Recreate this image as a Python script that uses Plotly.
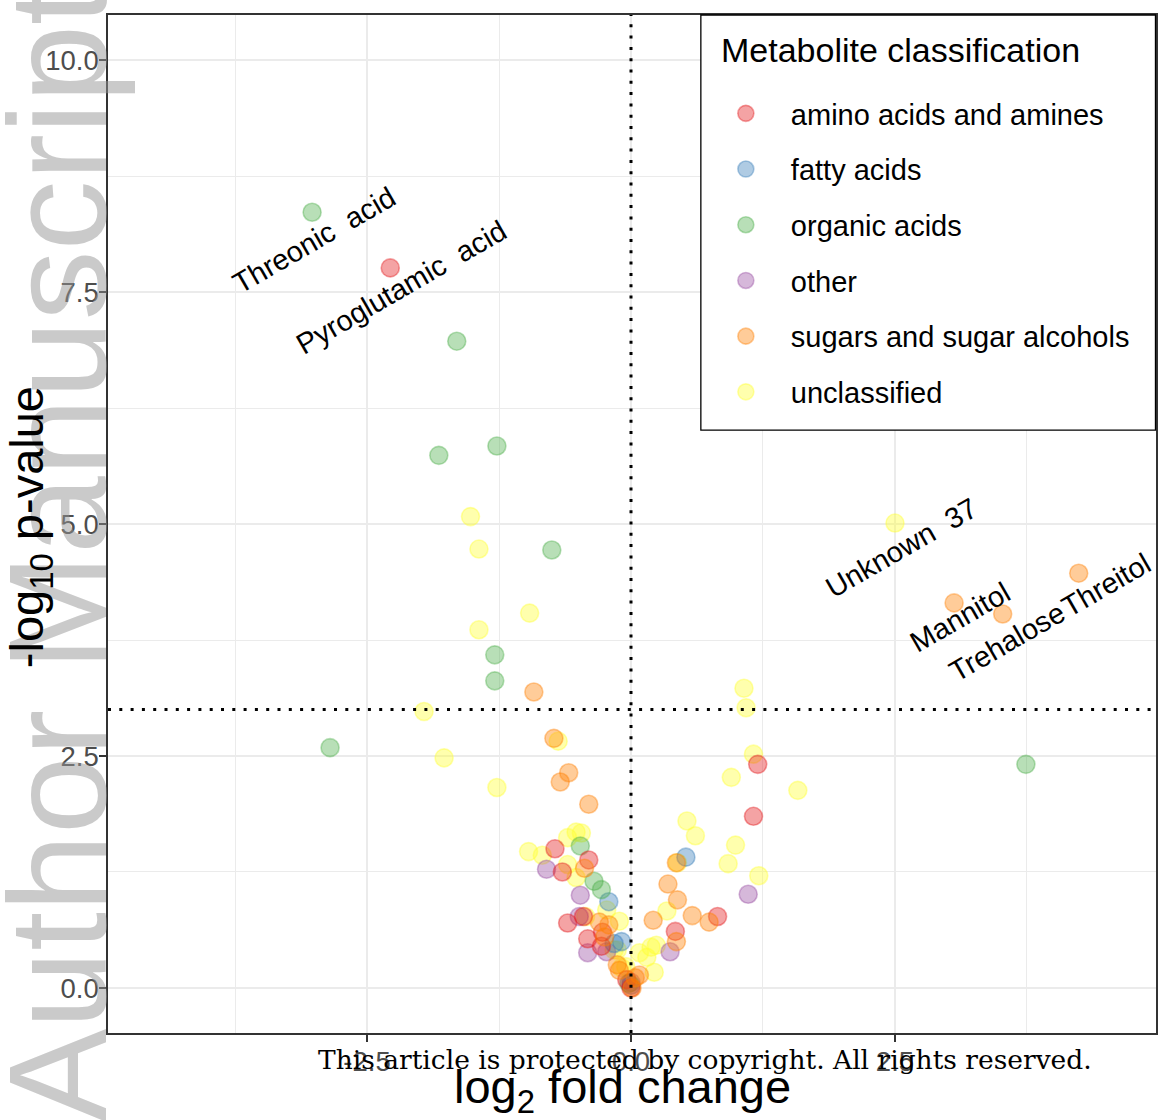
import plotly.graph_objects as go

# ---------------- data ----------------
categories = ["amino acids and amines", "fatty acids", "organic acids",
              "other", "sugars and sugar alcohols", "unclassified"]

amino_x = [-2.28, 1.20, 1.16, -0.72, -0.40, -0.65, -0.60, -0.45, -0.27, -0.41, -0.28, 0.82, 0.42, -0.04, 0.00]
amino_y = [7.76, 2.41, 1.85, 1.50, 1.38, 1.25, 0.70, 0.77, 0.60, 0.53, 0.45, 0.77, 0.61, 0.09, 0.00]

fatty_x = [0.52, -0.21, -0.09, -0.16, 0.00]
fatty_y = [1.41, 0.93, 0.50, 0.48, 0.03]

organic_x = [-3.02, -1.65, -1.82, -1.27, -0.75, -1.29, -1.29, -2.85, 3.74, -0.48, -0.35, -0.28, -0.02]
organic_y = [8.36, 6.97, 5.74, 5.84, 4.72, 3.59, 3.31, 2.59, 2.41, 1.53, 1.15, 1.06, 0.05]

other_x = [1.11, -0.80, -0.48, -0.49, -0.41, -0.23, 0.37, 0.00]
other_y = [1.01, 1.28, 1.00, 0.77, 0.38, 0.39, 0.39, 0.06]

sugars_x = [4.24, 3.06, 3.52, -0.92, -0.73, -0.59, -0.67, -0.40, 0.43, 0.35, 0.44, 0.21, 0.58, 0.74,
            0.43, -0.44, -0.30, -0.21, -0.25, -0.13, -0.11, 0.08, 0.01, 0.04]
sugars_y = [4.47, 4.15, 4.03, 3.19, 2.69, 2.32, 2.22, 1.98, 1.35, 1.12, 0.95, 0.73, 0.78, 0.71,
            0.50, 1.29, 0.71, 0.68, 0.55, 0.25, 0.19, 0.14, 0.00, 0.11]

unclass_x = [2.50, -1.52, -1.44, -0.96, -1.44, -1.96, -0.69, -1.77, -1.27, 1.07, 1.09, 1.16, 0.95, 1.58,
             0.53, 0.61, 0.44, 0.99, 0.92, 1.21, 0.34, -0.97, -0.84, -0.60, -0.52, -0.47, -0.60, -0.52,
             -0.23, -0.11, -0.43, -0.13, 0.08, 0.19, 0.24, 0.15, 0.22, -0.05, -0.09, -0.16]
unclass_y = [5.01, 5.08, 4.73, 4.04, 3.86, 2.98, 2.66, 2.48, 2.16, 3.23, 3.02, 2.52, 2.27, 2.13,
             1.80, 1.64, 1.35, 1.54, 1.34, 1.21, 0.83, 1.47, 1.43, 1.62, 1.68, 1.67, 1.33, 1.19,
             0.84, 0.72, 0.77, 0.41, 0.38, 0.44, 0.46, 0.33, 0.17, 0.23, 0.22, 0.41]

series_x = [amino_x, fatty_x, organic_x, other_x, sugars_x, unclass_x]
series_y = [amino_y, fatty_y, organic_y, other_y, sugars_y, unclass_y]

# labelled metabolites: (category index, point index)
label_texts = ["Threonic  acid", "Pyroglutamic  acid", "Unknown  37", "Mannitol", "Trehalose", "Threitol"]
label_refs = [(2, 0), (0, 0), (5, 0), (4, 1), (4, 2), (4, 0)]

x_tickvals = [-2.5, 0.0, 2.5]
x_ticktext = ["-2.5", "0.0", "2.5"]
y_tickvals = [0.0, 2.5, 5.0, 7.5, 10.0]
y_ticktext = ["0.0", "2.5", "5.0", "7.5", "10.0"]

fc_threshold = 0.0
p_threshold = 3.0

legend_title = "Metabolite classification"

# ---------------- style ----------------
palette = ["#E41A1C", "#377EB8", "#4DAF4A", "#984EA3", "#FF7F00", "#FFFF33"]
draw_order = [5, 3, 1, 2, 0, 4]
label_nudge = [(0.02, -0.30), (0.11, -0.21), (0.06, -0.27), (0.06, -0.15), (0.04, -0.30), (0.26, -0.13)]
SANS = "Liberation Sans, Arial, sans-serif"


def rgba(hexc, a):
    h = hexc.lstrip("#")
    return "rgba(%d,%d,%d,%.2f)" % (int(h[0:2], 16), int(h[2:4], 16), int(h[4:6], 16), a)


fig = go.Figure()
for i in draw_order:
    fig.add_trace(go.Scatter(
        x=series_x[i], y=series_y[i], mode="markers", name=categories[i],
        legendgroup=categories[i], legendrank=i + 1,
        marker=dict(size=18, color=rgba(palette[i], 0.4),
                    line=dict(color=rgba(palette[i], 0.4), width=1.6)),
    ))

# threshold lines
fig.add_shape(type="line", xref="x", yref="paper", x0=fc_threshold, x1=fc_threshold, y0=0, y1=1,
              line=dict(color="black", width=3, dash="3px,8.3px"))
fig.add_shape(type="line", xref="paper", yref="y", x0=0, x1=1, y0=p_threshold, y1=p_threshold,
              line=dict(color="black", width=3, dash="3px,8.3px"))
# legend frame
fig.add_shape(type="rect", xref="paper", yref="paper", x0=0.5657, x1=0.9995, y0=0.5923, y1=1.0,
              fillcolor="white", line=dict(color="black", width=1.3), layer="above")

annotations = []
# watermark
annotations.append(dict(text="Author Manuscript", xref="paper", yref="paper", x=-0.0486, y=0.4705,
                        xanchor="center", yanchor="middle", textangle=-90, showarrow=False,
                        font=dict(family=SANS, size=140, color="rgba(150,150,150,0.5)")))
# point labels
for (ci, pi), txt, (dx, dy) in zip(label_refs, label_texts, label_nudge):
    annotations.append(dict(text=txt, x=series_x[ci][pi] + dx, y=series_y[ci][pi] + dy,
                            xref="x", yref="y", showarrow=False, textangle=-30,
                            xanchor="center", yanchor="middle",
                            font=dict(family=SANS, size=29, color="black")))
# axis titles
annotations.append(dict(text="log<sub>2</sub> fold change", xref="paper", yref="paper",
                        x=0.4914, y=-0.056, xanchor="center", yanchor="middle", showarrow=False,
                        font=dict(family=SANS, size=47, color="black")))
annotations.append(dict(text="-log<sub>10</sub> p-value", xref="paper", yref="paper",
                        x=-0.0743, y=0.497, xanchor="center", yanchor="middle", showarrow=False,
                        textangle=-90, font=dict(family=SANS, size=47, color="black")))
# legend title
annotations.append(dict(text=legend_title, xref="paper", yref="paper", x=0.5829, y=0.9656,
                        xanchor="left", yanchor="middle", showarrow=False,
                        font=dict(family=SANS, size=34, color="black")))
# copyright line
annotations.append(dict(text="This article is protected by copyright. All rights reserved.",
                        xref="paper", yref="paper", x=0.5695, y=-0.0265, xanchor="center",
                        yanchor="middle", showarrow=False,
                        font=dict(family="DejaVu Serif, serif", size=26.5, color="black")))

axis_common = dict(
    showgrid=True, gridcolor="#EBEBEB", gridwidth=1.6,
    zeroline=False, showline=True, linecolor="#333333", linewidth=1.6, mirror=True,
    ticks="outside", ticklen=7, tickwidth=1.8, tickcolor="#333333",
    tickfont=dict(family=SANS, size=27.5, color="#4D4D4D"),
)

fig.update_layout(
    width=1159, height=1120,
    margin=dict(l=108, r=1, t=15, b=87),
    paper_bgcolor="white", plot_bgcolor="white",
    xaxis=dict(range=[-4.953, 4.972], tickvals=x_tickvals, ticktext=x_ticktext, ticklabelstandoff=-4,
               minor=dict(dtick=1.25, tick0=0, showgrid=True, gridcolor="#EBEBEB", gridwidth=0.8, ticks=""),
               **axis_common),
    yaxis=dict(range=[-0.485, 10.485], tickvals=y_tickvals, ticktext=y_ticktext, ticklabelstandoff=-5,
               minor=dict(dtick=1.25, tick0=0, showgrid=True, gridcolor="#EBEBEB", gridwidth=0.8, ticks=""),
               **axis_common),
    legend=dict(x=0.5657, xanchor="left", y=0.9283, yanchor="top", bgcolor="rgba(0,0,0,0)",
                borderwidth=0, tracegroupgap=15, itemwidth=80,
                font=dict(family=SANS, size=29, color="black")),
    annotations=annotations,
    showlegend=True,
)

fig.write_html("out.html")
